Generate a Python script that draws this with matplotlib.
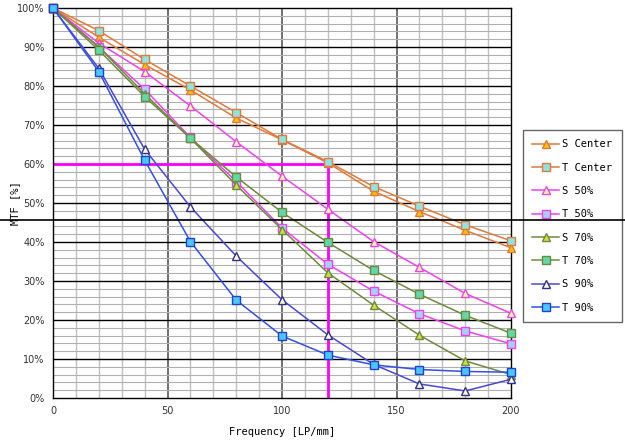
import matplotlib
matplotlib.use("Agg")
import matplotlib.pyplot as plt
from matplotlib.lines import Line2D
import numpy as np

# ── Data ─────────────────────────────────────────────────────────
freq = [0, 20, 40, 60, 80, 100, 120, 140, 160, 180, 200]

s_center = [100, 92.5, 85.5, 79, 71.8, 66.2, 60.3, 53, 47.8, 43, 38.5]
t_center = [100, 94.2, 86.8, 80, 73.2, 66.3, 60.6, 54.2, 49.2, 44.4, 40.3]
s_50 = [100, 91, 83.7, 74.9, 65.7, 56.9, 48.4, 40.1, 33.5, 26.8, 21.7]
t_50 = [100, 90, 79.2, 66.8, 55.5, 43.6, 34.3, 27.4, 21.6, 17.2, 13.9]
s_70 = [100, 90, 78, 66.6, 54.6, 43.2, 32.1, 23.8, 16.1, 9.5, 6]
t_70 = [100, 89.2, 77.3, 66.6, 56.7, 47.6, 39.9, 32.7, 26.6, 21.2, 16.6]
s_90 = [100, 84.5, 63.8, 49, 36.4, 25.2, 16.2, 8.6, 3.6, 1.8, 4.8]
t_90 = [100, 83.7, 61, 40.1, 25.1, 15.9, 11, 8.5, 7.3, 6.8, 6.6]

labels = ["S Center", "T Center", "S 50%", "T 50%", "S 70%", "T 70%", "S 90%", "T 90%"]
series = [s_center, t_center, s_50, t_50, s_70, t_70, s_90, t_90]

# line colour, marker, marker face, marker edge
styles = [
    ("#E2793A", "^", "#FFC000", "#E2793A"),
    ("#E2793A", "s", "#8EE4E0", "#E2793A"),
    ("#F040F0", "^", "#FFFFA0", "#F040F0"),
    ("#F040F0", "s", "#A8D0FF", "#F040F0"),
    ("#6E8A3C", "^", "#C8E040", "#6E8A3C"),
    ("#6E8A3C", "s", "#60D8A8", "#6E8A3C"),
    ("#4848D8", "^", "#FFFFD0", "#303090"),
    ("#3050E8", "s", "#48C8FF", "#2040D0"),
]

mono = "DejaVu Sans Mono"

fig = plt.figure(figsize=(6.25, 4.4), dpi=100)
ax = fig.add_axes([0.0848, 0.0955, 0.7328, 0.8863])

# ── Grid ─────────────────────────────────────────────────────────
for x in range(10, 200, 10):
    if x % 50 == 0:
        ax.axvline(x, color="#707070", lw=1.4, zorder=1)
    else:
        ax.axvline(x, color="#C0C0C0", lw=1.0, zorder=1)
for y in range(2, 100, 2):
    if y % 10 == 0:
        ax.axhline(y, color="black", lw=1.0, zorder=1)
    else:
        ax.axhline(y, color="#B0B0B0", lw=0.8, zorder=1)

# ── Curves ───────────────────────────────────────────────────────
for vals, lab, (lc, mk, mf, me) in zip(series, labels, styles):
    ax.plot(freq, vals, color=lc, lw=1.1, marker=mk, markersize=5.5,
            markerfacecolor=mf, markeredgecolor=me, markeredgewidth=1.0,
            label=lab, zorder=3, clip_on=False)

# 60% / 120 LP/mm reference lines
ax.plot([0, 120], [60, 60], color="#FF00FF", lw=2, zorder=2)
ax.plot([120, 120], [0, 60], color="#FF00FF", lw=2, zorder=2)

ax.set_xlim(0, 200)
ax.set_ylim(0, 100)
ax.set_xticks([0, 50, 100, 150, 200])
ax.set_yticks(range(0, 101, 10))
ax.set_yticklabels([f"{v}%" for v in range(0, 101, 10)])
ax.tick_params(length=0, labelsize=7, pad=6)
for t in ax.get_xticklabels() + ax.get_yticklabels():
    t.set_family("Liberation Sans Narrow")
    t.set_color("#333333")
for s in ax.spines.values():
    s.set_color("black")
    s.set_linewidth(1.0)

ax.set_xlabel("Frequency [LP/mm]", family=mono, fontsize=7.5, labelpad=8)
ax.set_ylabel("MTF [%]", family=mono, fontsize=7.5, va="center")
ax.yaxis.set_label_coords(-0.083, 0.5)

leg = ax.legend(loc="upper left", bbox_to_anchor=(1.026, 0.687), prop={"family": mono, "size": 7.5},
                frameon=True, fancybox=False, edgecolor="#404040", handlelength=2.6,
                labelspacing=1.28, borderpad=0.9, handletextpad=0.3, borderaxespad=0)
leg.get_frame().set_linewidth(1.0)

# stray horizontal rule across the whole figure
fig.add_artist(Line2D([0, 1], [0.499, 0.499], transform=fig.transFigure, color="black", lw=1.2, zorder=10))

plt.savefig("out.png", dpi=100)
plt.close()
